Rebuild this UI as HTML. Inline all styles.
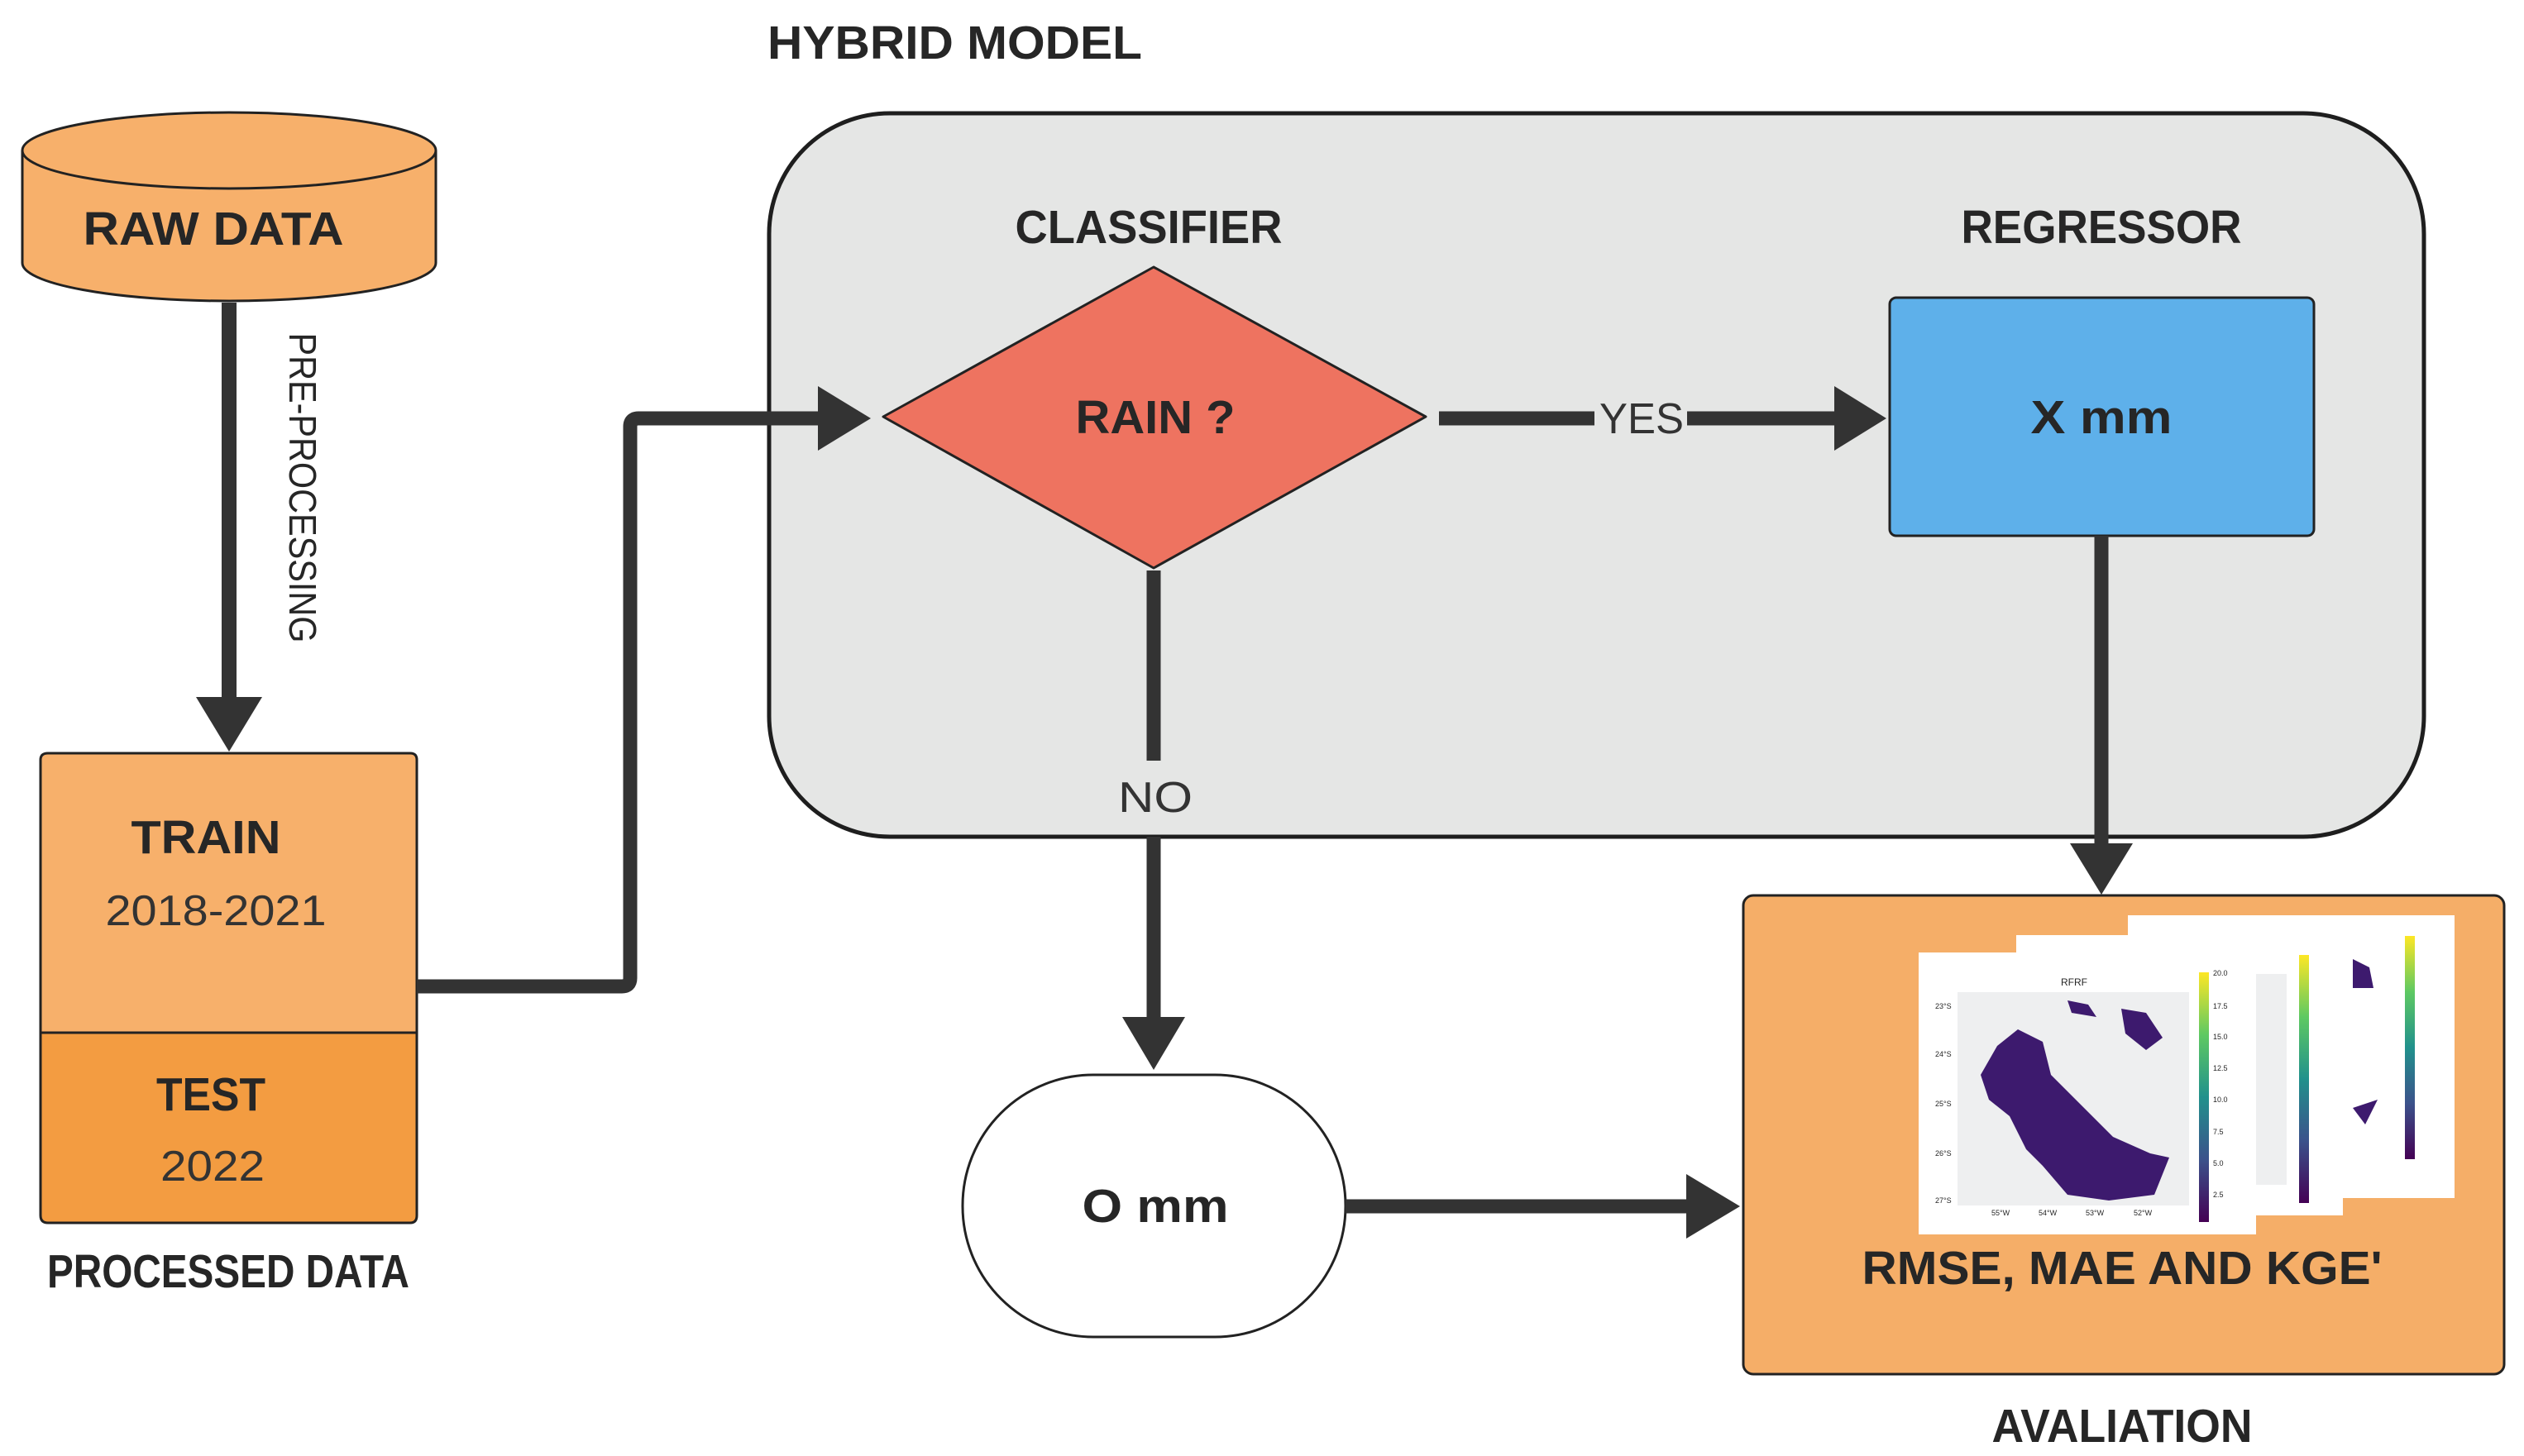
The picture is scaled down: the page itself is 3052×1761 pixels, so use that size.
<!DOCTYPE html>
<html><head><meta charset="utf-8"><style>
html,body{margin:0;padding:0;background:#fff}
svg{display:block}
text{font-family:"Liberation Sans",sans-serif;fill:#262626}
.b{font-weight:bold;font-size:57px}
.r{font-size:52px;fill:#333}
</style></head><body>
<svg width="3052" height="1761" viewBox="0 0 3052 1761" xmlns="http://www.w3.org/2000/svg">
<defs>
<linearGradient id="vir" x1="0" y1="1" x2="0" y2="0">
<stop offset="0" stop-color="#440154"/><stop offset="0.25" stop-color="#3b528b"/><stop offset="0.5" stop-color="#21918c"/><stop offset="0.75" stop-color="#5ec962"/><stop offset="1" stop-color="#fde725"/>
</linearGradient>
</defs>
<text class="b" x="928" y="71" textLength="453" lengthAdjust="spacingAndGlyphs">HYBRID MODEL</text>

<rect x="930" y="137" width="2001" height="875" rx="146" fill="#e5e6e5" stroke="#1e1e1e" stroke-width="5"/>

<path d="M27 182 L27 318 A250 46 0 0 0 527 318 L527 182" fill="#f7b06b" stroke="#222" stroke-width="3"/>
<ellipse cx="277" cy="182" rx="250" ry="46" fill="#f7b06b" stroke="#222" stroke-width="3"/>
<text class="b" x="258" y="296" text-anchor="middle" textLength="315" lengthAdjust="spacingAndGlyphs">RAW DATA</text>

<line x1="277" y1="366" x2="277" y2="848" stroke="#333" stroke-width="18"/>
<polygon points="237,843 317,843 277,909" fill="#333"/>
<text x="366" y="606" font-size="46" fill="#333" text-anchor="middle" transform="rotate(90 366 590)" textLength="375" lengthAdjust="spacingAndGlyphs">PRE-PROCESSING</text>

<path d="M58 911 H496 Q504 911 504 919 V1249 H49 V919 Q49 911 58 911 Z" fill="#f7b06b" stroke="#222" stroke-width="3"/>
<path d="M49 1249 H504 V1470 Q504 1479 496 1479 H58 Q49 1479 49 1470 Z" fill="#f39c41" stroke="#222" stroke-width="3"/>
<text class="b" x="249" y="1032" text-anchor="middle" textLength="181" lengthAdjust="spacingAndGlyphs">TRAIN</text>
<text class="r" x="261" y="1119" text-anchor="middle" textLength="267" lengthAdjust="spacingAndGlyphs">2018-2021</text>
<text class="b" x="255" y="1343" text-anchor="middle" textLength="132" lengthAdjust="spacingAndGlyphs">TEST</text>
<text class="r" x="257" y="1428" text-anchor="middle" textLength="126" lengthAdjust="spacingAndGlyphs">2022</text>
<text class="b" x="276" y="1557" text-anchor="middle" font-size="48" textLength="438" lengthAdjust="spacingAndGlyphs">PROCESSED DATA</text>

<path d="M504 1193 H752 Q762 1193 762 1183 V516 Q762 506 772 506 H995" fill="none" stroke="#333" stroke-width="17"/>
<polygon points="989,467 1053,506 989,545" fill="#333"/>

<text class="b" x="1389" y="294" text-anchor="middle" textLength="323" lengthAdjust="spacingAndGlyphs">CLASSIFIER</text>
<polygon points="1395,323 1724,504 1395,687 1068,504" fill="#ee7360" stroke="#222" stroke-width="3" stroke-linejoin="round"/>
<text class="b" x="1397" y="524" text-anchor="middle" textLength="193" lengthAdjust="spacingAndGlyphs">RAIN ?</text>

<text class="b" x="2541" y="294" text-anchor="middle" textLength="339" lengthAdjust="spacingAndGlyphs">REGRESSOR</text>
<rect x="2285" y="360" width="513" height="288" rx="8" fill="#5eb0ea" stroke="#222" stroke-width="3"/>
<text class="b" x="2541" y="524" text-anchor="middle" textLength="171" lengthAdjust="spacingAndGlyphs">X mm</text>

<line x1="1740" y1="506" x2="1928" y2="506" stroke="#333" stroke-width="17"/>
<line x1="2040" y1="506" x2="2225" y2="506" stroke="#333" stroke-width="17"/>
<polygon points="2218,467 2281,506 2218,545" fill="#333"/>
<text class="r" x="1985" y="524" text-anchor="middle" textLength="102" lengthAdjust="spacingAndGlyphs">YES</text>

<line x1="2541" y1="648" x2="2541" y2="1025" stroke="#333" stroke-width="17"/>
<polygon points="2503,1020 2579,1020 2541,1082" fill="#333"/>

<line x1="1395" y1="690" x2="1395" y2="920" stroke="#333" stroke-width="17"/>
<text class="r" x="1397" y="982" text-anchor="middle" textLength="90" lengthAdjust="spacingAndGlyphs">NO</text>
<line x1="1395" y1="1012" x2="1395" y2="1235" stroke="#333" stroke-width="17"/>
<polygon points="1357,1230 1433,1230 1395,1294" fill="#333"/>

<rect x="1164" y="1300" width="463" height="317" rx="158" ry="158" fill="#fff" stroke="#222" stroke-width="3"/>
<text class="b" x="1397" y="1478" text-anchor="middle" textLength="177" lengthAdjust="spacingAndGlyphs">O mm</text>
<line x1="1627" y1="1459" x2="2045" y2="1459" stroke="#333" stroke-width="17"/>
<polygon points="2039,1420 2104,1459 2039,1498" fill="#333"/>

<rect x="2108" y="1083" width="920" height="579" rx="12" fill="#f5ae68" stroke="#222" stroke-width="3"/>

<g>
<rect x="2573" y="1107" width="395" height="342" fill="#fff"/>
<rect x="2690" y="1155" width="70" height="260" fill="#eeeff0"/>
<rect x="2908" y="1132" width="12" height="270" fill="url(#vir)"/>
<path d="M2845 1160 l20 10 l5 25 l-25 0 z M2845 1340 l30 -10 l-15 30 z" fill="#3d1a6e"/>
</g>
<g>
<rect x="2438" y="1131" width="395" height="339" fill="#fff"/>
<rect x="2725" y="1178" width="40" height="255" fill="#eeeff0"/>
<rect x="2780" y="1155" width="12" height="300" fill="url(#vir)"/>
</g>
<g>
<rect x="2320" y="1152" width="408" height="341" fill="#fff"/>
<text x="2508" y="1192" font-size="12" fill="#555" text-anchor="middle">RFRF</text>
<rect x="2367" y="1200" width="280" height="258" fill="#eeeff0"/>
<path d="M2415 1265 L2440 1245 L2470 1260 L2480 1300 L2520 1340 L2555 1375 L2600 1395 L2623 1400 L2605 1445 L2550 1452 L2500 1445 L2470 1410 L2450 1390 L2430 1350 L2405 1330 L2395 1300 Z" fill="#3d1a6e"/>
<path d="M2565 1220 l30 5 l20 30 l-20 15 l-25 -20 z M2500 1210 l25 5 l10 15 l-30 -5 z" fill="#3d1a6e"/>
<rect x="2659" y="1176" width="12" height="302" fill="url(#vir)"/>
<g font-size="9" fill="#444">
<text x="2340" y="1220">23°S</text><text x="2340" y="1278">24°S</text><text x="2340" y="1338">25°S</text><text x="2340" y="1398">26°S</text><text x="2340" y="1455">27°S</text>
<text x="2408" y="1470">55°W</text><text x="2465" y="1470">54°W</text><text x="2522" y="1470">53°W</text><text x="2580" y="1470">52°W</text>
<text x="2676" y="1180">20.0</text><text x="2676" y="1220">17.5</text><text x="2676" y="1257">15.0</text><text x="2676" y="1295">12.5</text><text x="2676" y="1333">10.0</text><text x="2676" y="1372">7.5</text><text x="2676" y="1410">5.0</text><text x="2676" y="1448">2.5</text>
</g>
</g>
<text class="b" x="2566" y="1553" text-anchor="middle" textLength="629" lengthAdjust="spacingAndGlyphs">RMSE, MAE AND KGE'</text>
<text class="b" x="2566" y="1744" text-anchor="middle" font-size="50" textLength="315" lengthAdjust="spacingAndGlyphs">AVALIATION</text>
</svg>
</body></html>
